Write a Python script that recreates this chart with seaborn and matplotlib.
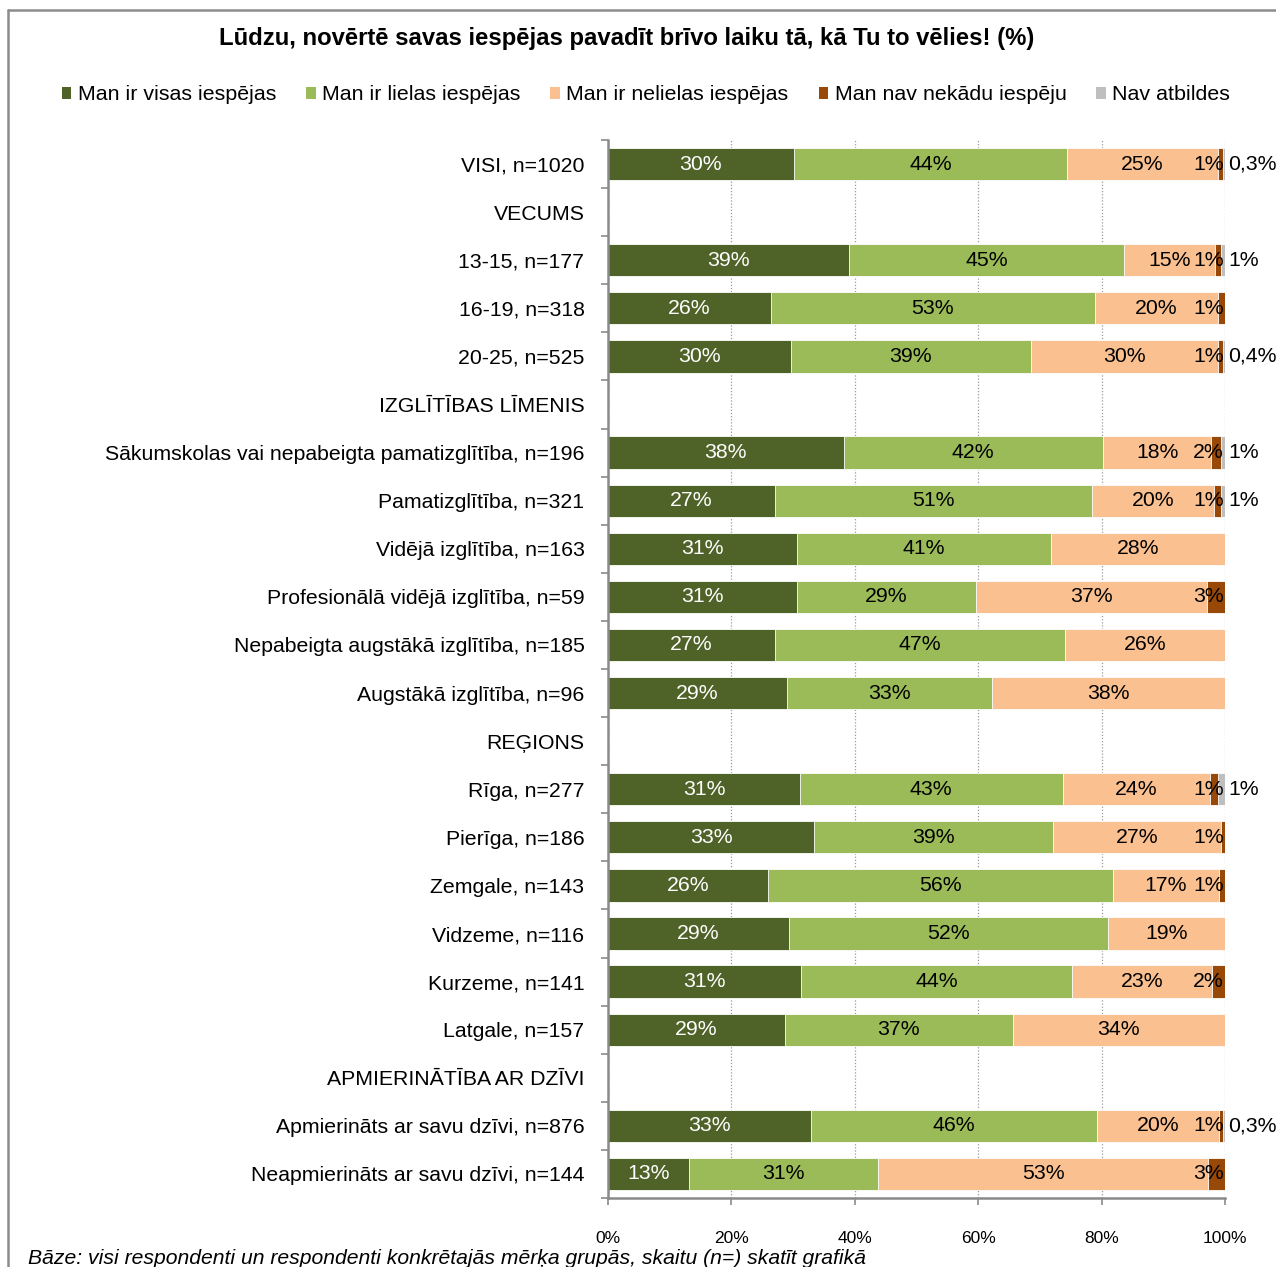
import numpy as np
import pandas as pd
import matplotlib
matplotlib.use("Agg")
import matplotlib.pyplot as plt
import seaborn as sns
from matplotlib.patches import Patch
from matplotlib.lines import Line2D

nan = np.nan

categories = [
    "VISI, n=1020",
    "VECUMS",
    "13-15, n=177",
    "16-19, n=318",
    "20-25, n=525",
    "IZGLĪTĪBAS LĪMENIS",
    "Sākumskolas vai nepabeigta pamatizglītība, n=196",
    "Pamatizglītība, n=321",
    "Vidējā izglītība, n=163",
    "Profesionālā vidējā izglītība, n=59",
    "Nepabeigta augstākā izglītība, n=185",
    "Augstākā izglītība, n=96",
    "REĢIONS",
    "Rīga, n=277",
    "Pierīga, n=186",
    "Zemgale, n=143",
    "Vidzeme, n=116",
    "Kurzeme, n=141",
    "Latgale, n=157",
    "APMIERINĀTĪBA AR DZĪVI",
    "Apmierināts ar savu dzīvi, n=876",
    "Neapmierināts ar savu dzīvi, n=144",
]

series_names = [
    "Man ir visas iespējas",
    "Man ir lielas iespējas",
    "Man ir nelielas iespējas",
    "Man nav nekādu iespēju",
    "Nav atbildes",
]

visas = [30.1, nan, 39.1, 26.4, 29.6, nan, 38.2, 27.1, 30.6, 30.6, 27.1, 29.0,
         nan, 31.1, 33.4, 25.9, 29.3, 31.3, 28.7, nan, 32.9, 13.1]
lielas = [44.3, nan, 44.5, 52.5, 38.9, nan, 42.0, 51.4, 41.2, 29.1, 47.0, 33.3,
          nan, 42.6, 38.7, 55.9, 51.7, 43.9, 36.9, nan, 46.4, 30.7]
nelielas = [24.5, nan, 14.8, 20.0, 30.4, nan, 17.6, 19.7, 28.2, 37.4, 25.9, 37.7,
            nan, 23.8, 27.3, 17.2, 19.0, 22.7, 34.4, nan, 19.8, 53.4]
nav_iespeju = [0.8, nan, 1.0, 1.1, 0.7, nan, 1.6, 1.2, 0.0, 2.9, 0.0, 0.0,
               nan, 1.3, 0.6, 1.0, 0.0, 2.1, 0.0, nan, 0.6, 2.8]
nav_atbildes = [0.3, nan, 0.6, 0.0, 0.4, nan, 0.6, 0.6, 0.0, 0.0, 0.0, 0.0,
                nan, 1.2, 0.0, 0.0, 0.0, 0.0, 0.0, nan, 0.3, 0.0]

colors = ["#4F6228", "#9BBB59", "#FAC090", "#984807", "#BFBFBF"]

W, H = 1276, 1267
sns.set_style("white")
plt.rcParams["font.family"] = ["Liberation Sans", "DejaVu Sans"]
plt.rcParams["text.color"] = "black"
plt.rcParams["axes.labelcolor"] = "black"
plt.rcParams["xtick.color"] = "black"
plt.rcParams["ytick.color"] = "black"

fig = plt.figure(figsize=(W / 100, H / 100), dpi=100)
ax = fig.add_axes([608 / W, 1 - 1198 / H, (1225 - 608) / W, (1198 - 140) / H])

series = [visas, lielas, nelielas, nav_iespeju, nav_atbildes]
df = pd.DataFrame({"cat": categories})
cum = np.zeros(len(categories))
cum_cols = []
for k, s in enumerate(series):
    cum = cum + np.array(s, dtype=float)
    col = f"c{k}"
    df[col] = cum
    cum_cols.append(col)

# draw cumulative bars, largest first so each overlays the next
for k in range(len(series) - 1, -1, -1):
    sns.barplot(data=df, x=cum_cols[k], y="cat", order=categories, orient="h",
                color=colors[k], saturation=1, width=0.67, errorbar=None,
                edgecolor="white", linewidth=0.6, ax=ax)

ax.set_xlim(0, 100)
ax.set_ylim(len(categories) - 0.5, -0.5)
ax.set_xlabel("")
ax.set_ylabel("")

ax.set_axisbelow(True)
ax.xaxis.grid(True, linestyle=(0, (1, 1.5)), color="#9a9a9a", linewidth=0.9)
ax.yaxis.grid(False)

ax.set_xticks([0, 20, 40, 60, 80, 100])
ax.set_xticklabels([f"{v}%" for v in [0, 20, 40, 60, 80, 100]])
ax.tick_params(axis="x", length=5, width=1.2, color="#8a8a8a", labelcolor="black",
               pad=19, labelsize=12.5, bottom=True)
ax.tick_params(axis="y", which="major", length=0, pad=17, labelsize=15.3,
               labelcolor="black")
ax.set_yticks(np.arange(-0.5, len(categories), 1), minor=True)
ax.tick_params(axis="y", which="minor", length=5, width=1.2, color="#8a8a8a", left=True)

for side in ["top", "right"]:
    ax.spines[side].set_visible(False)
for side in ["left", "bottom"]:
    ax.spines[side].set_color("#8a8a8a")
    ax.spines[side].set_linewidth(1.8)


def fmt(v):
    r = int(v + 0.5)
    if r >= 1:
        return f"{r}%"
    return f"{v:.1f}".replace(".", ",") + "%"


for i in range(len(categories)):
    left = 0.0
    for k, s in enumerate(series):
        v = s[i]
        if np.isnan(v):
            continue
        if v <= 0:
            continue
        txt = fmt(v)
        if k == 0:
            ax.text(left + v / 2, i, txt, ha="center", va="center", color="white",
                    fontsize=15.3)
        elif k in (1, 2):
            ax.text(left + v / 2, i, txt, ha="center", va="center", color="black",
                    fontsize=15.3)
        elif k == 3:
            ax.text(99.8, i, txt, ha="right", va="center", color="black",
                    fontsize=15.3, clip_on=False)
        else:
            ax.text(100.5, i, txt, ha="left", va="center", color="black",
                    fontsize=15.3, clip_on=False)
        left += v

# title
fig.text(627 / W, 1 - 38 / H,
         "Lūdzu, novērtē savas iespējas pavadīt brīvo laiku tā, kā Tu to vēlies! (%)",
         ha="center", va="center", fontsize=17.2, fontweight="bold", color="black")

# legend
handles = [Patch(facecolor=c, edgecolor="none") for c in colors]
fig.legend(handles, series_names, loc="center", bbox_to_anchor=(646 / W, 1 - 95 / H),
           ncol=5, frameon=False, fontsize=15.4, handlelength=0.45, handleheight=0.45,
           handletextpad=0.3, columnspacing=1.4, borderaxespad=0, borderpad=0)

# footnote
fig.text(28 / W, 1 - 1259 / H,
         "Bāze: visi respondenti un respondenti konkrētajās mērķa grupās, skaitu (n=) skatīt grafikā",
         ha="left", va="center", fontsize=15.2, style="italic", color="black")

# frame
fig.add_artist(Line2D([7.5 / W, 7.5 / W], [0, 1 - 10 / H], transform=fig.transFigure,
                      color="#8c8c8c", linewidth=1.8))
fig.add_artist(Line2D([7.5 / W, 1], [1 - 10 / H, 1 - 10 / H], transform=fig.transFigure,
                      color="#8c8c8c", linewidth=1.8))

fig.savefig("out.png", dpi=100)
